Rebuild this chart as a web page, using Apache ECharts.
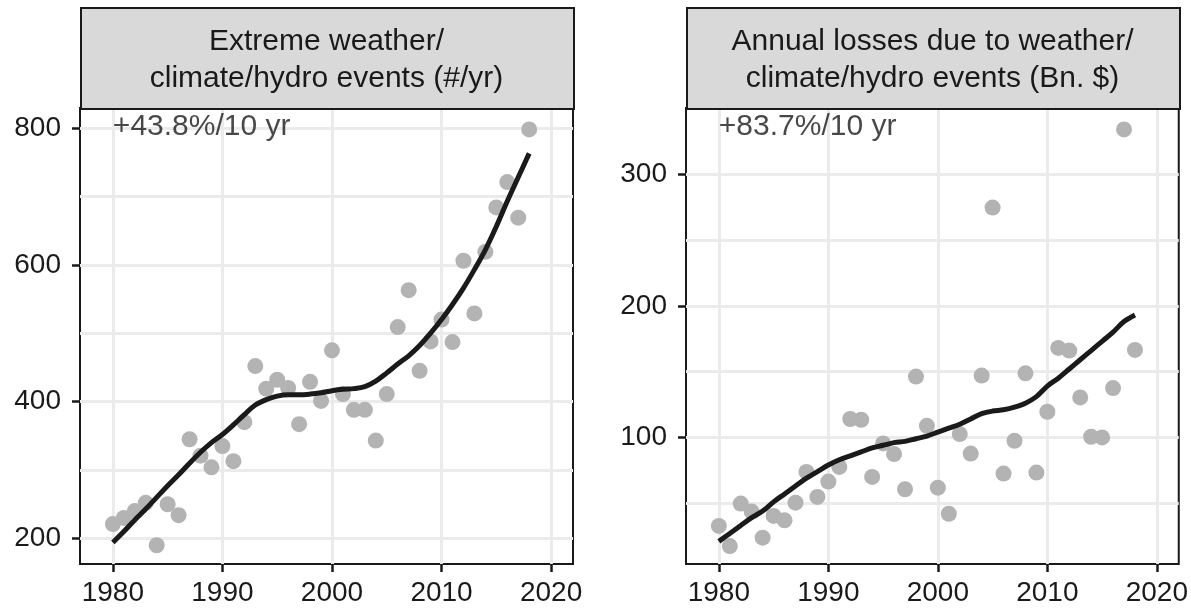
<!DOCTYPE html>
<html><head><meta charset="utf-8">
<script src="https://cdn.jsdelivr.net/npm/echarts@6/dist/echarts.min.js"></script>
<style>html,body{margin:0;padding:0;background:#fff}#c{width:1191px;height:608px}</style>
</head><body><div id="c"></div>
<script>
const years = [1980,1981,1982,1983,1984,1985,1986,1987,1988,1989,1990,1991,1992,1993,1994,1995,1996,1997,1998,1999,2000,2001,2002,2003,2004,2005,2006,2007,2008,2009,2010,2011,2012,2013,2014,2015,2016,2017,2018];
const eventsCount = [221,230,240,252,190,250,234,345,321,304,335,313,370,452,419,432,420,367,429,401,475,411,388,388,343,411,509,563,445,488,520,487,606,529,619,684,721,669,798];
const eventsFit = [194,210,227,243,260,277,293,310,326,340,352,366,381,395,403,408,410,410,411,413,416,418,419,422,430,442,455,467,482,500,520,542,566,593,622,656,693,728,763];
const lossesBn = [32.7,17.4,49.7,43.6,23.8,40.3,37,50.4,73.8,54.8,66.4,77.6,114,113.4,70,95.4,87.3,60.6,146.2,108.8,61.8,42,102.5,87.7,147,274.6,72.5,97.4,148.7,73.3,119.5,168,166,130.4,100.5,100,137.5,334,166.5];
const lossesFit = [21,27,33,39,44,51,57,63,69,74,79,83,86,89,92,94,96,97,99,101,104,107,110,114,118,120,121,123,126,131,139,145,152,159,166,173,180,188,193];
const xTicks = [1980,1990,2000,2010,2020];
const eventsTicks = [200,400,600,800];
const eventsGridLines = [200,300,400,500,600,700,800];
const lossesTicks = [100,200,300];
const lossesGridLines = [50,100,150,200,250,300];
const panelTitles = ['Extreme weather/\nclimate/hydro events (#/yr)', 'Annual losses due to weather/\nclimate/hydro events (Bn. $)'];
const trendLabels = ['+43.8%/10 yr', '+83.7%/10 yr'];

const INK = '#1a1a1a';
const GRIDC = '#ebebeb';
const FONT = '"Liberation Sans", Arial, sans-serif';
const panels = [
  {left: 80, width: 493, ymin: 162.6, ymax: 829.3, ticks: eventsTicks, lines: eventsGridLines, pts: eventsCount, fit: eventsFit},
  {left: 686, width: 493, ymin: 3.8, ymax: 350.3, ticks: lossesTicks, lines: lossesGridLines, pts: lossesBn, fit: lossesFit}
];
const TOP = 108, H = 456;

const chart = echarts.init(document.getElementById('c'), null, {renderer: 'canvas'});
const grid = [], xAxis = [], yAxis = [], series = [], graphic = [];
panels.forEach((p, i) => {
  grid.push({left: p.left, top: TOP, width: p.width, height: H, show: true, borderColor: INK, borderWidth: 2, backgroundColor: '#fff', containLabel: false});
  xAxis.push({
    type: 'value', gridIndex: i, min: 1977, max: 2022,
    axisLine: {show: false},
    axisTick: {show: true, length: 8, lineStyle: {color: INK, width: 2.5}, customValues: xTicks},
    axisLabel: {show: true, customValues: xTicks, formatter: v => String(v), color: INK, fontSize: 28, fontFamily: FONT, margin: 15},
    splitLine: {show: true, lineStyle: {color: GRIDC, width: 3}}
  });
  yAxis.push({
    type: 'value', gridIndex: i, min: p.ymin, max: p.ymax,
    axisLine: {show: false},
    axisTick: {show: true, length: 8, lineStyle: {color: INK, width: 2.5}, customValues: p.ticks},
    axisLabel: {show: true, customValues: p.ticks, formatter: v => String(v), color: INK, fontSize: 28, fontFamily: FONT, margin: 19},
    splitLine: {show: false}
  });
  yAxis.push({
    type: 'value', gridIndex: i, min: p.ymin, max: p.ymax,
    axisLine: {show: false},
    axisTick: {show: false, customValues: p.lines},
    axisLabel: {show: false},
    splitLine: {show: true, lineStyle: {color: GRIDC, width: 3}}
  });
  series.push({
    type: 'scatter', xAxisIndex: i, yAxisIndex: i * 2, z: 3,
    data: years.map((y, k) => [y, p.pts[k]]),
    symbolSize: 16, itemStyle: {color: '#b3b3b3', opacity: 1}, silent: true
  });
  series.push({
    type: 'line', xAxisIndex: i, yAxisIndex: i * 2, z: 4,
    data: years.map((y, k) => [y, p.fit[k]]),
    smooth: 0.35, showSymbol: false, symbol: 'none',
    lineStyle: {color: INK, width: 5, cap: 'butt'}, silent: true
  });
  series.push({
    type: 'scatter', xAxisIndex: i, yAxisIndex: i * 2, z: 5,
    data: [[years[0], Math.max(...p.pts)]], symbolSize: 0,
    label: {show: true, position: 'inside', align: 'left', verticalAlign: 'middle', offset: [0, -3],
      formatter: trendLabels[i], color: INK, fontSize: 30, fontFamily: FONT}, silent: true
  });
  graphic.push({
    type: 'rect', left: p.left, top: 7, z: 10,
    shape: {width: p.width, height: TOP - 7},
    style: {fill: '#d9d9d9', stroke: INK, lineWidth: 2}
  });
  graphic.push({
    type: 'text', x: p.left + p.width / 2, y: 60, z: 11,
    style: {text: panelTitles[i], fill: INK, font: '30px ' + FONT, textAlign: 'center', textVerticalAlign: 'middle', lineHeight: 37}
  });
});

chart.setOption({animation: false, backgroundColor: '#fff', grid, xAxis, yAxis, series, graphic});
</script></body></html>
